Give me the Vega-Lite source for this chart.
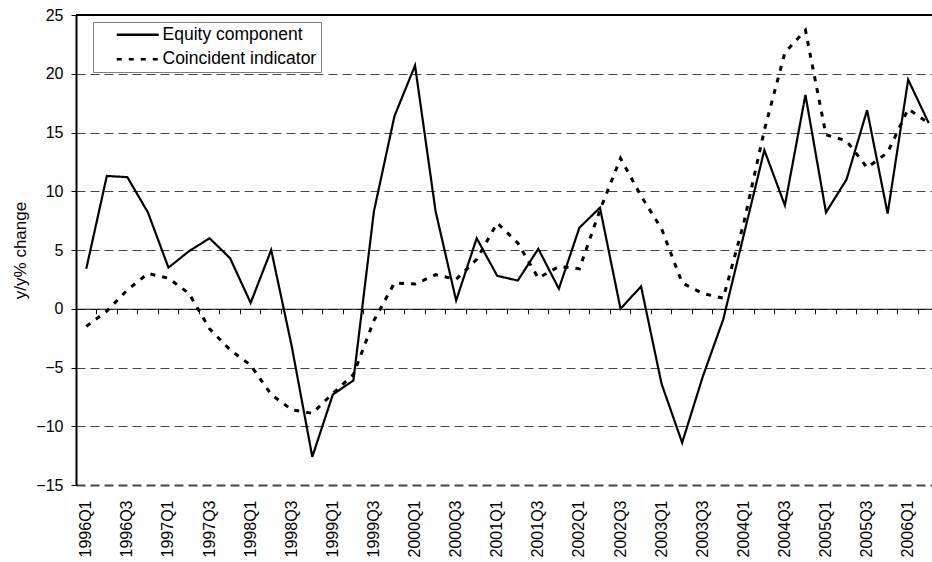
{
  "$schema": "https://vega.github.io/schema/vega-lite/v6.json",
  "width": 856,
  "height": 470,
  "autosize": "none",
  "padding": {"left": 76, "top": 15, "right": 0, "bottom": 77},
  "background": "white",
  "config": {
    "view": {"stroke": null},
    "font": "Liberation Sans"
  },
  "data": {
    "values": [
      {"quarter": "1996Q1", "series": "Equity component", "value": 3.4},
      {"quarter": "1996Q2", "series": "Equity component", "value": 11.3},
      {"quarter": "1996Q3", "series": "Equity component", "value": 11.2},
      {"quarter": "1996Q4", "series": "Equity component", "value": 8.2},
      {"quarter": "1997Q1", "series": "Equity component", "value": 3.5},
      {"quarter": "1997Q2", "series": "Equity component", "value": 4.9},
      {"quarter": "1997Q3", "series": "Equity component", "value": 6.0},
      {"quarter": "1997Q4", "series": "Equity component", "value": 4.3},
      {"quarter": "1998Q1", "series": "Equity component", "value": 0.5},
      {"quarter": "1998Q2", "series": "Equity component", "value": 5.0},
      {"quarter": "1998Q3", "series": "Equity component", "value": -3.2},
      {"quarter": "1998Q4", "series": "Equity component", "value": -12.6},
      {"quarter": "1999Q1", "series": "Equity component", "value": -7.3},
      {"quarter": "1999Q2", "series": "Equity component", "value": -6.1},
      {"quarter": "1999Q3", "series": "Equity component", "value": 8.3},
      {"quarter": "1999Q4", "series": "Equity component", "value": 16.4},
      {"quarter": "2000Q1", "series": "Equity component", "value": 20.7},
      {"quarter": "2000Q2", "series": "Equity component", "value": 8.3},
      {"quarter": "2000Q3", "series": "Equity component", "value": 0.7},
      {"quarter": "2000Q4", "series": "Equity component", "value": 6.0},
      {"quarter": "2001Q1", "series": "Equity component", "value": 2.8},
      {"quarter": "2001Q2", "series": "Equity component", "value": 2.4},
      {"quarter": "2001Q3", "series": "Equity component", "value": 5.1},
      {"quarter": "2001Q4", "series": "Equity component", "value": 1.7},
      {"quarter": "2002Q1", "series": "Equity component", "value": 6.9},
      {"quarter": "2002Q2", "series": "Equity component", "value": 8.6},
      {"quarter": "2002Q3", "series": "Equity component", "value": 0.0},
      {"quarter": "2002Q4", "series": "Equity component", "value": 1.9},
      {"quarter": "2003Q1", "series": "Equity component", "value": -6.4},
      {"quarter": "2003Q2", "series": "Equity component", "value": -11.4},
      {"quarter": "2003Q3", "series": "Equity component", "value": -5.8},
      {"quarter": "2003Q4", "series": "Equity component", "value": -0.9},
      {"quarter": "2004Q1", "series": "Equity component", "value": 6.3},
      {"quarter": "2004Q2", "series": "Equity component", "value": 13.5},
      {"quarter": "2004Q3", "series": "Equity component", "value": 8.8},
      {"quarter": "2004Q4", "series": "Equity component", "value": 18.2},
      {"quarter": "2005Q1", "series": "Equity component", "value": 8.2},
      {"quarter": "2005Q2", "series": "Equity component", "value": 11.0},
      {"quarter": "2005Q3", "series": "Equity component", "value": 16.9},
      {"quarter": "2005Q4", "series": "Equity component", "value": 8.1},
      {"quarter": "2006Q1", "series": "Equity component", "value": 19.5},
      {"quarter": "2006Q2", "series": "Equity component", "value": 15.8},
      {"quarter": "1996Q1", "series": "Coincident indicator", "value": -1.5},
      {"quarter": "1996Q2", "series": "Coincident indicator", "value": -0.2},
      {"quarter": "1996Q3", "series": "Coincident indicator", "value": 1.6},
      {"quarter": "1996Q4", "series": "Coincident indicator", "value": 3.0},
      {"quarter": "1997Q1", "series": "Coincident indicator", "value": 2.6},
      {"quarter": "1997Q2", "series": "Coincident indicator", "value": 1.3},
      {"quarter": "1997Q3", "series": "Coincident indicator", "value": -1.7},
      {"quarter": "1997Q4", "series": "Coincident indicator", "value": -3.5},
      {"quarter": "1998Q1", "series": "Coincident indicator", "value": -4.8},
      {"quarter": "1998Q2", "series": "Coincident indicator", "value": -7.3},
      {"quarter": "1998Q3", "series": "Coincident indicator", "value": -8.6},
      {"quarter": "1998Q4", "series": "Coincident indicator", "value": -8.9},
      {"quarter": "1999Q1", "series": "Coincident indicator", "value": -7.2},
      {"quarter": "1999Q2", "series": "Coincident indicator", "value": -5.6},
      {"quarter": "1999Q3", "series": "Coincident indicator", "value": -1.0},
      {"quarter": "1999Q4", "series": "Coincident indicator", "value": 2.2},
      {"quarter": "2000Q1", "series": "Coincident indicator", "value": 2.1},
      {"quarter": "2000Q2", "series": "Coincident indicator", "value": 2.9},
      {"quarter": "2000Q3", "series": "Coincident indicator", "value": 2.5},
      {"quarter": "2000Q4", "series": "Coincident indicator", "value": 4.2},
      {"quarter": "2001Q1", "series": "Coincident indicator", "value": 7.3},
      {"quarter": "2001Q2", "series": "Coincident indicator", "value": 5.6},
      {"quarter": "2001Q3", "series": "Coincident indicator", "value": 2.6},
      {"quarter": "2001Q4", "series": "Coincident indicator", "value": 3.6},
      {"quarter": "2002Q1", "series": "Coincident indicator", "value": 3.4},
      {"quarter": "2002Q2", "series": "Coincident indicator", "value": 8.4},
      {"quarter": "2002Q3", "series": "Coincident indicator", "value": 12.8},
      {"quarter": "2002Q4", "series": "Coincident indicator", "value": 9.6},
      {"quarter": "2003Q1", "series": "Coincident indicator", "value": 6.8},
      {"quarter": "2003Q2", "series": "Coincident indicator", "value": 2.2},
      {"quarter": "2003Q3", "series": "Coincident indicator", "value": 1.3},
      {"quarter": "2003Q4", "series": "Coincident indicator", "value": 0.9},
      {"quarter": "2004Q1", "series": "Coincident indicator", "value": 7.3},
      {"quarter": "2004Q2", "series": "Coincident indicator", "value": 15.2},
      {"quarter": "2004Q3", "series": "Coincident indicator", "value": 21.8},
      {"quarter": "2004Q4", "series": "Coincident indicator", "value": 23.7},
      {"quarter": "2005Q1", "series": "Coincident indicator", "value": 14.8},
      {"quarter": "2005Q2", "series": "Coincident indicator", "value": 14.3},
      {"quarter": "2005Q3", "series": "Coincident indicator", "value": 12.0},
      {"quarter": "2005Q4", "series": "Coincident indicator", "value": 13.3},
      {"quarter": "2006Q1", "series": "Coincident indicator", "value": 17.0},
      {"quarter": "2006Q2", "series": "Coincident indicator", "value": 15.8}
    ]
  },
  "layer": [
    {
      "mark": {"type": "rule", "color": "black", "strokeWidth": 1},
      "encoding": {
        "y": {
          "datum": 25,
          "type": "quantitative",
          "scale": {"domain": [-15, 25], "nice": false, "zero": false},
          "axis": {
            "title": "y/y% change",
            "values": [25, 20, 15, 10, 5, 0, -5, -10, -15],
            "grid": true,
            "gridDash": [9, 5],
            "gridColor": "#444444",
            "gridWidth": {"condition": {"test": "datum.value === -15", "value": 2}, "value": 1},
            "domainColor": "black",
            "domainWidth": 2,
            "tickColor": "black",
            "tickSize": 5,
            "labelFontSize": 16,
            "labelColor": "black",
            "labelPadding": 8,
            "titleFontSize": 17,
            "titleFontWeight": "normal",
            "titleColor": "black",
            "titlePadding": 6
          }
        }
      }
    },
    {
      "transform": [{"filter": "datum.series === 'Coincident indicator'"}],
      "mark": {"type": "line", "color": "black", "strokeWidth": 3, "strokeCap": "butt"},
      "encoding": {
        "x": {
          "field": "quarter",
          "type": "ordinal",
          "sort": null,
          "scale": {
            "type": "band",
            "domain": ["1996Q1","1996Q2","1996Q3","1996Q4","1997Q1","1997Q2","1997Q3","1997Q4","1998Q1","1998Q2","1998Q3","1998Q4","1999Q1","1999Q2","1999Q3","1999Q4","2000Q1","2000Q2","2000Q3","2000Q4","2001Q1","2001Q2","2001Q3","2001Q4","2002Q1","2002Q2","2002Q3","2002Q4","2003Q1","2003Q2","2003Q3","2003Q4","2004Q1","2004Q2","2004Q3","2004Q4","2005Q1","2005Q2","2005Q3","2005Q4","2006Q1","2006Q2"],
            "range": [0, 863],
            "paddingInner": 0,
            "paddingOuter": 0
          },
          "axis": {
            "orient": "bottom",
            "offset": -176.25,
            "labels": false,
            "title": null,
            "ticks": true,
            "tickSize": 5,
            "tickColor": "black",
            "bandPosition": 0,
            "domain": true,
            "domainColor": "black",
            "domainWidth": 1,
            "grid": false,
            "zindex": 1
          }
        },
        "y": {
          "field": "value",
          "type": "quantitative",
          "scale": {"domain": [-15, 25], "nice": false, "zero": false},
          "axis": {
            "title": "y/y% change",
            "values": [25, 20, 15, 10, 5, 0, -5, -10, -15],
            "grid": true,
            "gridDash": [9, 5],
            "gridColor": "#444444",
            "gridWidth": {"condition": {"test": "datum.value === -15", "value": 2}, "value": 1},
            "domainColor": "black",
            "domainWidth": 2,
            "tickColor": "black",
            "tickSize": 5,
            "labelFontSize": 16,
            "labelColor": "black",
            "labelPadding": 8,
            "titleFontSize": 17,
            "titleFontWeight": "normal",
            "titleColor": "black",
            "titlePadding": 6
          }
        },
        "strokeDash": {
          "field": "series",
          "type": "nominal",
          "scale": {"domain": ["Equity component", "Coincident indicator"], "range": [[1, 0], [5, 7]]},
          "legend": {
            "title": null,
            "orient": "none",
            "legendX": 17,
            "legendY": 7,
            "strokeColor": "#808080",
            "fillColor": "white",
            "padding": 4,
            "symbolOffset": 32,
            "symbolType": "M-4,0H4",
            "symbolSize": 110.25,
            "symbolStrokeWidth": 2.5,
            "symbolStrokeColor": "black",
            "symbolFillColor": "transparent",
            "labelFontSize": 17.5,
            "labelColor": "black",
            "labelOffset": 16,
            "rowPadding": 5.5,
            "labelLimit": 400
          }
        }
      }
    },
    {
      "transform": [{"filter": "datum.series === 'Equity component'"}],
      "mark": {"type": "line", "color": "black", "strokeWidth": 2.2},
      "encoding": {
        "x": {
          "field": "quarter",
          "type": "ordinal",
          "sort": null,
          "axis": {
            "orient": "bottom",
            "values": ["1996Q1","1996Q3","1997Q1","1997Q3","1998Q1","1998Q3","1999Q1","1999Q3","2000Q1","2000Q3","2001Q1","2001Q3","2002Q1","2002Q3","2003Q1","2003Q3","2004Q1","2004Q3","2005Q1","2005Q3","2006Q1"],
            "labelAngle": 270,
            "labelAlign": "right",
            "labelBaseline": "middle",
            "labelFontSize": 16,
            "labelColor": "black",
            "labelPadding": 15,
            "ticks": false,
            "tickSize": 0,
            "domain": false,
            "grid": false,
            "title": null
          }
        },
        "y": {
          "field": "value",
          "type": "quantitative"
        },
        "strokeDash": {
          "field": "series",
          "type": "nominal"
        }
      }
    }
  ],
  "resolve": {"axis": {"x": "independent"}}
}
